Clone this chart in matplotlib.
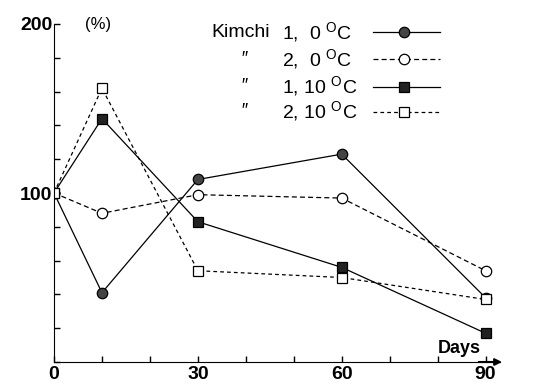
import matplotlib.pyplot as plt

days = [0, 10, 30, 60, 90]
k1_0c = [100, 41, 108, 123, 38]
k2_0c = [100, 88, 99, 97, 54]
k1_10c = [100, 144, 83, 56, 17]
k2_10c = [100, 162, 54, 50, 37]

legend_names = ["Kimchi", "\u2033", "\u2033", "\u2033"]
legend_conds = ["1,  0 $^\\mathrm{O}$C", "2,  0 $^\\mathrm{O}$C",
                "1, 10 $^\\mathrm{O}$C", "2, 10 $^\\mathrm{O}$C"]

plt.rcParams['font.family'] = ['Liberation Sans', 'DejaVu Sans']
plt.rcParams['mathtext.fontset'] = 'custom'
plt.rcParams['mathtext.rm'] = 'Liberation Sans'

fig = plt.figure(figsize=(5.45, 3.86), dpi=100)
ax = fig.add_axes([54 / 545, 24 / 386, 446 / 545, 338 / 386])

styles = [
    dict(ls='-', marker='o', mfc='#444444', mec='black'),
    dict(ls=(0, (4, 2.5)), marker='o', mfc='white', mec='black'),
    dict(ls='-', marker='s', mfc='#222222', mec='black'),
    dict(ls=(0, (3, 2.5)), marker='s', mfc='white', mec='black'),
]
series = [k1_0c, k2_0c, k1_10c, k2_10c]

for vals, st in zip(series, styles):
    ax.plot(days, vals, color='black', lw=0.9, ms=7.5, mew=0.9, **st)

ax.set_xlim(0, 93)
ax.set_ylim(0, 200)
ax.spines['top'].set_visible(False)
ax.spines['right'].set_visible(False)

ax.set_xticks(range(0, 100, 10))
ax.set_xticklabels(['0', '', '', '30', '', '', '60', '', '', '90'],
                   fontsize=14, fontweight='bold')
ax.set_yticks(range(0, 201, 20))
ax.set_yticklabels(['' if v not in (100, 200) else str(v) for v in range(0, 201, 20)],
                   fontsize=14, fontweight='bold')
ax.tick_params(direction='in', length=4, width=1, pad=3)
ax.tick_params(axis='y', pad=1)

ax.text(0.07, 1.0, '(%)', transform=ax.transAxes, fontsize=12, va='center')
ax.text(84.6, 3, 'Days', fontsize=13, fontweight='bold', ha='center', va='bottom')
ax.annotate('', xy=(94, 0), xytext=(88, 0), xycoords='data', annotation_clip=False,
            arrowprops=dict(arrowstyle='-|>', color='black', lw=1.5))

# hand-drawn legend in upper right
rows_y = [195, 179, 163, 148]
for i, (nm, cond, st) in enumerate(zip(legend_names, legend_conds, styles)):
    y = rows_y[i]
    if i == 0:
        ax.text(39, y, nm, fontsize=14, va='center', ha='center')
    else:
        ax.text(39.5, y, nm, fontsize=13, va='center', ha='center', style='italic')
    ax.text(47.5, y, cond, fontsize=14, va='center', ha='left')
    ax.plot([66.5, 80.5], [y, y], color='black', lw=0.9, ls=st['ls'], clip_on=False)
    ax.plot([73], [y], color='black', ms=7.5, mew=0.9, ls='none',
            marker=st['marker'], mfc=st['mfc'], mec='black')

fig.savefig('out.png', dpi=100)
